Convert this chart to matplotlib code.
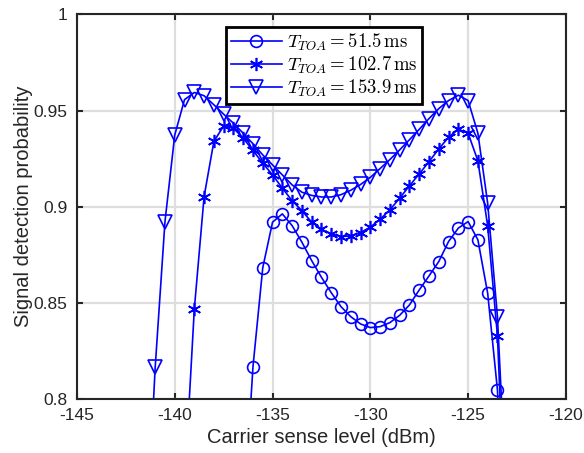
import numpy as np
import matplotlib.pyplot as plt

# carrier sense level (dBm) and detection probability per T_TOA
x_c = [-136.5, -136, -135.5, -135, -134.5, -134, -133.5, -133, -132.5, -132,
       -131.5, -131, -130.5, -130, -129.5, -129, -128.5, -128, -127.5, -127,
       -126.5, -126, -125.5, -125, -124.5, -124, -123.5, -123]
p_51 = [0.735, 0.8167, 0.8682, 0.8919, 0.8962, 0.8901, 0.8815, 0.8719, 0.8632, 0.8552,
        0.8479, 0.8427, 0.8389, 0.8370, 0.8375, 0.8396, 0.8434, 0.8488, 0.8566, 0.8639,
        0.8714, 0.8818, 0.8888, 0.8922, 0.8827, 0.8549, 0.8045, 0.70]

x_s = [-139.5, -139, -138.5, -138, -137.5, -137, -136.5, -136, -135.5, -135,
       -134.5, -134, -133.5, -133, -132.5, -132, -131.5, -131, -130.5, -130,
       -129.5, -129, -128.5, -128, -127.5, -127, -126.5, -126, -125.5, -125,
       -124.5, -124, -123.5, -123]
p_102 = [0.755, 0.8466, 0.9052, 0.9339, 0.9420, 0.9408, 0.9356, 0.9292, 0.9226, 0.9165,
         0.9096, 0.9031, 0.8979, 0.8919, 0.8882, 0.8858, 0.8844, 0.8847, 0.8865, 0.8893,
         0.8934, 0.8983, 0.9044, 0.9108, 0.9170, 0.9234, 0.9300, 0.9361, 0.9403, 0.9382,
         0.9238, 0.8900, 0.8328, 0.71]

x_t = [-141.5, -141, -140.5, -140, -139.5, -139, -138.5, -138, -137.5, -137,
       -136.5, -136, -135.5, -135, -134.5, -134, -133.5, -133, -132.5, -132,
       -131.5, -131, -130.5, -130, -129.5, -129, -128.5, -128, -127.5, -127,
       -126.5, -126, -125.5, -125, -124.5, -124, -123.5, -123]
p_153 = [0.716, 0.8164, 0.8922, 0.9373, 0.9557, 0.9594, 0.9577, 0.9530, 0.9481, 0.9434,
         0.9382, 0.9327, 0.9269, 0.9217, 0.9165, 0.9113, 0.9075, 0.9058, 0.9050, 0.9050,
         0.9062, 0.9085, 0.9115, 0.9152, 0.9198, 0.9245, 0.9295, 0.9348, 0.9402, 0.9458,
         0.9510, 0.9552, 0.9580, 0.9552, 0.9382, 0.9018, 0.8427, 0.738]

labels = [r'$T_{TOA} = 51.5\,\mathrm{ms}$',
          r'$T_{TOA} = 102.7\,\mathrm{ms}$',
          r'$T_{TOA} = 153.9\,\mathrm{ms}$']

plt.rcParams['font.family'] = ['Liberation Sans', 'DejaVu Sans']
plt.rcParams['mathtext.fontset'] = 'cm'
plt.rcParams['axes.unicode_minus'] = False

fig = plt.figure(figsize=(5.84, 4.53), dpi=100)
ax = fig.add_axes([0.1318, 0.1199, 0.8372, 0.8481])

ax.plot(x_c, p_51, '-', color='blue', lw=1.2, marker='o', ms=8.5, mfc='none',
        mew=1.2, label=labels[0])
ax.plot(x_s, p_102, '-', color='blue', lw=1.2, marker=(6, 2, 0), ms=9.5,
        mew=1.2, label=labels[1])
ax.plot(x_t, p_153, '-', color='blue', lw=1.2, marker='v', ms=9.5, mfc='none',
        mew=1.2, label=labels[2])

ax.set_xlim(-145, -120)
ax.set_ylim(0.8, 1.0)
ax.set_xticks(np.arange(-145, -119, 5))
ax.set_yticks([0.8, 0.85, 0.9, 0.95, 1.0])
ax.set_yticklabels(['0.8', '0.85', '0.9', '0.95', '1'])

ax.grid(True, color='#dedede', lw=1.6)
ax.set_axisbelow(True)
dark = '#262626'
for s in ax.spines.values():
    s.set_color(dark)
    s.set_linewidth(1.5)
ax.tick_params(direction='in', top=True, right=True, length=4, width=1.5,
               colors=dark, labelsize=12.5)
ax.tick_params(axis='x', pad=7)
ax.tick_params(axis='y', pad=7)

ax.set_xlabel('Carrier sense level (dBm)', fontsize=14.5, color=dark, labelpad=3)
ax.set_ylabel('Signal detection probability', fontsize=14.5, color=dark, labelpad=0)

leg = ax.legend(loc='upper center', bbox_to_anchor=(0.506, 0.967), fontsize=13.5,
                fancybox=False, framealpha=1, edgecolor='black',
                borderpad=0.25, labelspacing=0.1, handlelength=2.7,
                handletextpad=0.3, borderaxespad=0)
leg.get_frame().set_linewidth(2)

fig.savefig('out.png', dpi=100)
